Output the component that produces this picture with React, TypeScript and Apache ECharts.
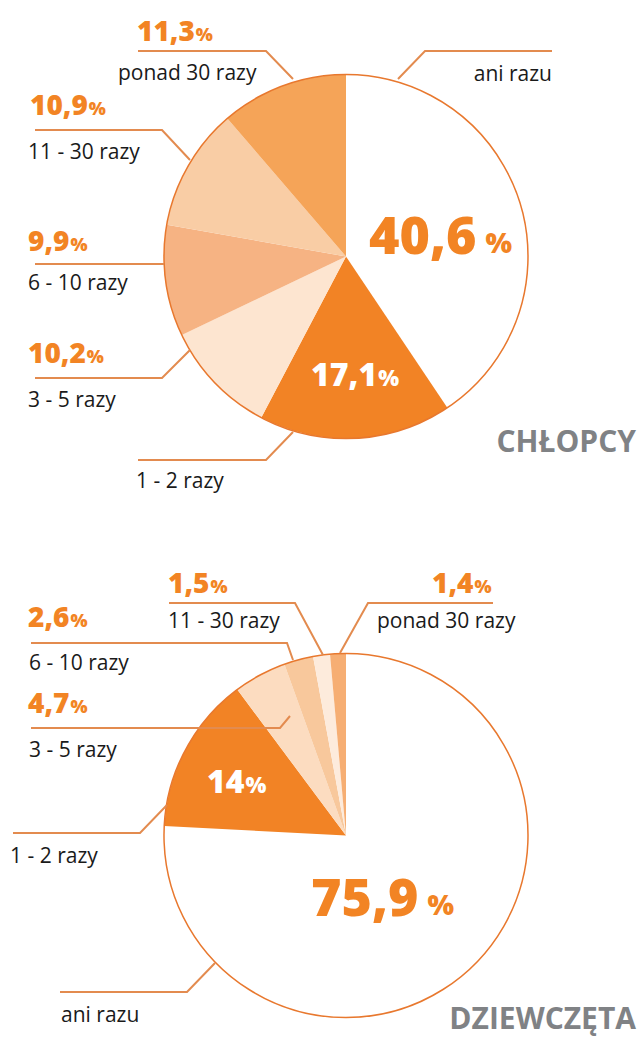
import React, { useEffect, useRef } from "react";
import * as echarts from "echarts";

// ---------- data ----------
const categories = ["ani razu", "1 - 2 razy", "3 - 5 razy", "6 - 10 razy", "11 - 30 razy", "ponad 30 razy"];
const boysValues = [40.6, 17.1, 10.2, 9.9, 10.9, 11.3];
const girlsValues = [75.9, 14, 4.7, 2.6, 1.5, 1.4];
const titles = ["CHŁOPCY", "DZIEWCZĘTA"];

// ---------- styles ----------
const boysColors = ["#FFFFFF", "#F28325", "#FDE5D0", "#F6B383", "#F9CDA5", "#F5A458"];
const girlsColors = ["#FFFFFF", "#F28325", "#FCDCC0", "#F8C89C", "#FDEBDC", "#F6AE73"];
const ORANGE = "#F28424";
const LINE = "#E38B4F";
const FONT = "'Open Sans', 'Noto Sans', sans-serif";

// label layout per category index (annotation positions only)
type Lay = {
  name: [number, number, string];
  pct: [number, number];
  kind: "small" | "mid" | "big";
  line: number[][];
};

const boysLayout: Lay[] = [
  { name: [552, 73, "right"], pct: [369, 233], kind: "big", line: [[398, 79], [425, 51], [552, 51]] },
  { name: [136, 480, "left"], pct: [311, 373], kind: "mid", line: [[293, 432], [266, 460], [138, 460]] },
  { name: [28, 399, "left"], pct: [28, 352], kind: "small", line: [[190, 350], [162, 378], [35, 378]] },
  { name: [28, 282, "left"], pct: [28, 240], kind: "small", line: [[164, 264], [35, 264]] },
  { name: [28, 151, "left"], pct: [30, 104], kind: "small", line: [[190, 160], [162, 130], [35, 130]] },
  { name: [118, 72, "left"], pct: [137, 30], kind: "small", line: [[293, 79], [266, 51], [138, 51]] },
];

const girlsLayout: Lay[] = [
  { name: [61, 1014, "left"], pct: [311, 895], kind: "big", line: [[215, 963], [187, 992], [60, 992]] },
  { name: [10, 855, "left"], pct: [207, 780], kind: "mid", line: [[167, 805], [140, 833], [13, 833]] },
  { name: [29, 749, "left"], pct: [28, 702], kind: "small", line: [[290, 716], [280, 728], [31, 728]] },
  { name: [29, 662, "left"], pct: [28, 616], kind: "small", line: [[293, 660], [287, 643], [31, 643]] },
  { name: [168, 620, "left"], pct: [168, 582], kind: "small", line: [[323, 655], [295, 603], [169, 603]] },
  { name: [377, 620, "left"], pct: [432, 582], kind: "small", line: [[340, 653], [368, 603], [493, 603]] },
];

const pies = [
  { center: [346, 256.5], radius: 182, values: boysValues, colors: boysColors, layout: boysLayout, title: titles[0], titleY: 440 },
  { center: [346, 835.5], radius: 182, values: girlsValues, colors: girlsColors, layout: girlsLayout, title: titles[1], titleY: 1017 },
];

const fmt = (v: number) => String(v).replace(".", ",");

const sizes = {
  small: { n: 28, s: 18, gap: 1, color: ORANGE },
  mid: { n: 32, s: 22, gap: 1, color: "#FFFFFF" },
  big: { n: 52, s: 28, gap: 9, color: ORANGE },
};

let measureCtx: CanvasRenderingContext2D | null = null;
function textWidth(text: string, font: string) {
  if (!measureCtx) measureCtx = document.createElement("canvas").getContext("2d");
  if (!measureCtx) return text.length * 10;
  measureCtx.font = font;
  return measureCtx.measureText(text).width;
}

function buildOption() {
  const series: any[] = [];
  const graphic: any[] = [];
  pies.forEach((p) => {
    series.push({
      type: "pie",
      center: p.center,
      radius: p.radius,
      startAngle: 90,
      clockwise: true,
      silent: true,
      label: { show: false },
      labelLine: { show: false },
      itemStyle: { borderWidth: 0 },
      data: categories.map((c, i) => ({ name: c, value: p.values[i], itemStyle: { color: p.colors[i] } })),
    });
    series.push({
      type: "pie",
      center: p.center,
      radius: p.radius,
      silent: true,
      z: 3,
      label: { show: false },
      labelLine: { show: false },
      itemStyle: { color: "rgba(0,0,0,0)", borderColor: "#E8782E", borderWidth: 1.5 },
      data: [{ name: "outline", value: 1 }],
    });
    categories.forEach((c, i) => {
      const l = p.layout[i];
      const sz = sizes[l.kind];
      const numText = fmt(p.values[i]);
      const numFont = `800 ${sz.n}px ${FONT}`;
      const symFont = `800 ${sz.s}px ${FONT}`;
      const w = textWidth(numText, numFont);
      // baseline alignment: central-baseline offset ~0.388em
      const baseline = l.pct[1] + 0.388 * sz.n;
      graphic.push({
        type: "polyline",
        z: 10,
        shape: { points: l.line },
        style: { stroke: LINE, lineWidth: 2, fill: "none" },
      });
      graphic.push({
        type: "text",
        z: 11,
        x: l.name[0],
        y: l.name[1],
        style: { text: c, font: `400 21px ${FONT}`, fill: "#1A1A1A", align: l.name[2], verticalAlign: "middle" },
      });
      graphic.push({
        type: "text",
        z: 11,
        x: l.pct[0],
        y: l.pct[1],
        style: { text: numText, font: numFont, fill: sz.color, align: "left", verticalAlign: "middle" },
      });
      graphic.push({
        type: "text",
        z: 11,
        x: l.pct[0] + w + sz.gap,
        y: baseline - 0.388 * sz.s,
        style: { text: "%", font: symFont, fill: sz.color, align: "left", verticalAlign: "middle" },
      });
    });
    graphic.push({
      type: "text",
      z: 11,
      x: 636,
      y: p.titleY,
      style: { text: p.title, font: `700 30px ${FONT}`, fill: "#808285", align: "right", verticalAlign: "middle" },
    });
  });
  return { animation: false, backgroundColor: "#FFFFFF", series, graphic };
}

export default function App() {
  const ref = useRef<HTMLDivElement>(null);
  useEffect(() => {
    if (!ref.current) return;
    const chart = echarts.init(ref.current, undefined, { renderer: "svg" });
    chart.setOption(buildOption());
    return () => chart.dispose();
  }, []);
  return <div ref={ref} style={{ position: "absolute", left: 0, top: 0, width: 639, height: 1040 }} />;
}
